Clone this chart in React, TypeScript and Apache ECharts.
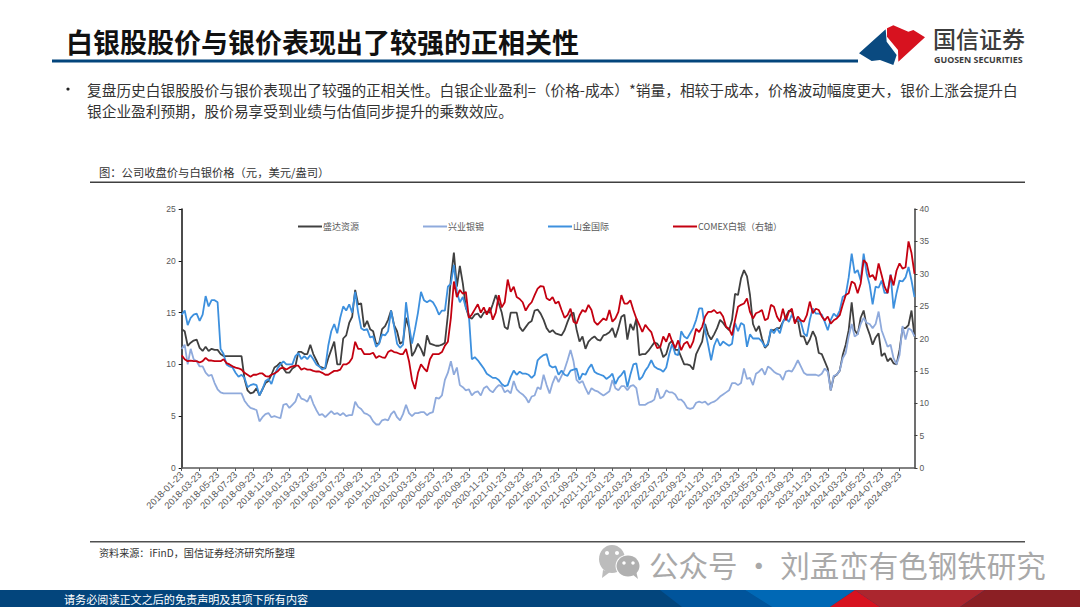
import React, { useEffect, useRef } from "react";
import * as echarts from "echarts";

const seriesNames = ["盛达资源", "兴业银锡", "山金国际", "COMEX白银（右轴）"];

const shengda = [
  13.4,13.2,11.8,12.1,12.3,12.4,11.6,11.3,11.7,11.3,
  11.5,11.4,11.4,11.0,10.8,10.8,10.8,10.8,10.8,10.8,
  10.8,8.6,7.5,7.2,7.3,7.7,7.0,7.6,8.2,8.4,
  9.0,9.7,9.9,10.2,9.6,9.2,9.2,9.6,9.8,11.2,
  11.2,11.0,11.0,11.9,11.0,10.4,9.8,9.7,9.6,10.6,
  11.4,12.2,10.0,10.0,12.5,12.8,14.0,14.6,17.2,15.8,
  15.9,13.6,14.2,13.4,13.2,12.0,12.0,13.4,13.7,14.3,
  15.2,13.8,13.2,12.0,12.2,14.5,13.5,10.8,11.3,12.0,
  11.5,10.8,12.8,12.0,11.9,11.8,11.8,11.9,12.1,14.8,
  18.3,20.8,17.5,19.5,17.8,15.5,14.6,
  14.4,14.8,14.9,14.5,15,15.1,15,15.8,16.7,15.9,15,13.6,13.4,15,15,15,13.6,13.2,13.6,14,14.2,15.2,15.3,
  14.9,14.3,13.5,13.1,13.3,13,12.9,12.8,13.3,14.1,14.8,15,13.4,12.2,12.7,11.5,12.2,12.5,12.7,12.4,12.3,12.8,12.9,13.1,13.5,12.6,13.5,14.6,14.8,12.4,13.9,13.3,14.4,10.9,11,11,11.3,11.7,12.1,12,11.6,
  10.7,11,12,12.3,11.4,11.4,10.7,10,10,9.9,9.5,11,11.6,12.2,13.9,12.9,12.4,12.9,13.5,14.3,14,13.6,13.3,14.3,16.8,16.7,18.3,19.1,18.5,16.7,13.9,13.2,13.7,12.5,11.6,11.9,13.3,13.3,13.5,13.5,14.1,14.6,15.2,
  15.1,14.1,14.3,12.7,12.7,11.9,12.4,13.2,12.6,11.1,11,10.3,9.6,7.5,8.8,9,9.4,10.9,11.9,13.3,16,13.3,12.9,14.5,15.2,13.7,12.9,11.9,12.6,13,10.8,11.1,10.3,10.6,10.1,10,11.4,13.5,13.5,13.8,15.2,12.7,
];

const xingye = [
  11.5,11.9,10,11.5,10.5,10.3,9.8,9.8,9.2,8.9,
  9,8.2,7.6,7.3,7.2,7.2,7.2,7.2,7.2,7.2,
  7.2,6.5,6.1,5.8,5.7,5.6,4.5,4.9,5.2,5.3,
  4.9,5,4.9,4.8,6.1,6.2,5.8,6.1,6.4,7.2,
  6.7,6.6,6.4,7,6.2,5.6,5.1,5.2,4.9,5.2,
  5.5,5.2,5.3,5.1,5.3,5,5.1,5.1,6.4,5.9,
  5.7,5.3,5.2,5,4.5,4.2,4.2,4.6,4.7,4.6,
  5.2,5.5,4.9,4.6,5.2,6.1,5.3,5,5.3,5.3,
  5.4,5.4,5.1,5.3,5.4,6.8,6.7,7,8.5,9.2,
  10.3,9,9.7,8,7.8,7.5,7.6,
  7,7.3,7.4,7,7.7,7.9,7.5,7.3,7.7,8,7.9,7.3,7.5,7.2,8.4,7.6,7.3,7.1,6.8,6.3,6.9,7,7.8,
  7.6,9,8,7.2,8.2,8.9,8.3,8.9,9.5,10.4,11.4,10.3,8.5,8.2,8.4,7.7,7.1,7.7,7.5,7.4,7.2,7,7.2,7.4,8.5,7.7,7.5,7.9,7.9,7.5,7.9,8,7.7,6.1,6.1,6.1,6.3,6.4,6.6,7.7,6.7,
  6.9,7.5,7.3,7.3,7.1,6.6,6.6,6.3,5.8,5.7,5.8,6.3,6.4,6.3,6.4,6.1,6.3,6.4,6.6,6.9,7.1,7.3,7.5,8.2,8.2,8,8.2,9.6,8.6,8.7,8,9.1,9.3,9.6,9,9.8,9.6,9.3,9.1,9,8.5,9.3,9.4,
  9.3,9.8,10.4,9.8,9.2,9,9,9,9,8.9,9.1,9.6,9.3,7.5,8.9,9,9.4,10.6,11.1,12.7,13.9,12.7,12.9,13.9,14.5,14,13.9,13.5,13.9,15.1,13.3,12.5,11.7,11.9,10.6,10,10.9,13.7,12.4,13.5,13.3,12.7,
];

const shanjin = [
  14.8,15.2,13.8,14.5,14.8,14.9,14.2,14.8,16.6,15.6,
  16.2,16.2,16.0,11.5,11,10,9.8,9.7,9.2,8.8,
  9,8.7,7.8,8,8.1,8,7,7.6,8.4,8.6,
  8.1,9,9.6,10,10.3,10,10,10,10.8,11.1,
  10.5,10.8,10.5,10.9,10.5,10,9.8,9.5,9.7,11.8,
  13.2,13.9,13,14.5,15.6,15.2,15.8,15,17,15,
  13.5,13.3,13.4,12.6,12.7,11.7,12,12.9,12.8,13.2,
  15.2,13.7,12,11.6,11.9,16,13.8,12,13.4,15,
  17,16.2,16,16.2,16,15.5,14.8,15.2,15.2,17.5,
  17.8,19.6,17,16,16.5,15.5,14.8,
  10.5,10.7,10.4,10,9.6,9.1,8.9,8.7,8.7,8.5,8.1,7.9,8,8.8,9.4,9,9.3,9.1,9.1,9,8.7,9,10.4,
  10.7,10.9,11,9.9,9.7,9.8,9,9.4,9,8.9,9.4,9.5,9.6,8.5,9.1,9,9.6,10,9.3,9.1,9,8.9,8.6,8.8,9.1,8.1,8.7,9,9.4,7.8,9,10,10.1,8.5,8.8,9.4,9.8,10.4,9.8,9.6,9.5,
  9.3,9.7,11,12,11,10.9,13.2,12.7,12.5,13,13.5,14.3,15.4,15.4,13.3,11.9,10.4,11.8,12.5,11.8,12.2,12,11.8,12,14,13.2,14,13.8,11.7,12.9,12.5,12.5,12.5,12.2,11.7,12,13.4,13,13.5,13,14.1,14.5,14.1,
  14.8,14.3,14.3,14.1,13,12.7,14.3,15.4,14.9,14.9,14.8,14.1,13.3,14.3,14.9,14.6,15.2,16.5,16.7,18.4,20.7,18.8,19.1,18.1,20.7,18.8,17.7,15.8,17.5,17.4,18.1,16.9,16.9,18.7,15.4,16.9,18.1,18,18.4,19.4,18.1,16.5,
];

const comexSilver = [
  17.4,16.8,16.5,16.6,16.5,16.5,16.3,16.5,17,16.6,
  16.6,16.5,16.5,16.5,16.8,16.2,16,15.7,15.5,15.4,
  15.2,14.7,14.4,14.1,14.4,14.4,14.6,14.6,14.2,14.1,
  14.4,14.6,14.9,15.4,15.5,15.2,15.5,15.7,15.8,15.8,
  15.2,15.4,15.2,15.2,15,14.9,14.9,14.7,14.4,14.4,
  14.7,15,15,15.2,16,16,16.3,17,19.5,18.4,
  18.4,17.6,17.6,17.6,17.8,17,17.3,17.1,17,17.9,
  18.2,17.9,17.8,17.6,17.6,18.4,16.5,13.6,12.2,14.7,
  16,15.4,14.9,16.8,17.6,17.6,17.6,17.9,18.9,19.5,
  23.2,28.8,26.4,27.5,26.9,27.2,23.2,
  23.7,24.5,25.3,24,24.8,23.7,24.8,22.9,24,26.7,24.8,25.6,29.1,27.2,28,26.4,26.1,25.6,24.3,25.1,25.6,26.7,27.7,
  28.1,28,26.2,25.9,26.4,25.4,25.7,24.4,23.2,23.6,
  24.6,22.6,22.3,23.6,24.4,24.1,25.2,24.4,22.6,22.1,
  22.6,23.1,22.8,24.4,22.6,23.1,24.1,26.7,25.4,25.4,
  25.9,24.4,23.1,22.1,21,22.1,21.5,21,19.5,18.5,
  18.7,20.3,19.5,20.8,19.5,18.5,19.7,18.2,19.2,19.5,
  18.5,19.5,21.5,21,21.8,23.4,24.1,24.1,24.4,23.9,
  24.1,23.4,21.8,21.5,20.5,22.8,24.9,25.2,25.4,26.2,
  24.1,23.1,23.9,24.1,24.4,22.8,23.1,25.2,24.9,23.4,
  22.6,24.6,22.8,24.1,24.6,22.3,23.4,22.8,22.6,23.6,
  25.7,23.9,24.6,24.4,23.4,22.8,23.4,22.3,22.8,23.1,
  23.6,
  25.2,26.7,27,28.8,28.5,27,28.5,32.1,31.6,29.5,29.8,29,31.6,29.8,28,27,29.8,28.2,30.5,31.6,30.8,31,35,33.2,30,
];

// Date grid: three samples a month, starting on 2018-01-23
const pad = (n: number) => String(n).padStart(2, "0");
const categories: string[] = shengda.map((_, i) => {
  const step = i + 2; // 23rd is the third sample of a month
  const months = Math.floor(step / 3);
  const d = [3, 13, 23][step % 3];
  const y = 2018 + Math.floor(months / 12);
  const m = months % 12 + 1;
  return `${y}-${pad(m)}-${pad(d)}`;
});

const titleText = "白银股股价与银价表现出了较强的正相关性";
const bodyLine1 = "复盘历史白银股股价与银价表现出了较强的正相关性。白银企业盈利=（价格-成本）*销量，相较于成本，价格波动幅度更大，银价上涨会提升白";
const bodyLine2 = "银企业盈利预期，股价易享受到业绩与估值同步提升的乘数效应。";
const chartHeading = "图：公司收盘价与白银价格（元，美元/盎司）";
const sourceText = "资料来源：iFinD，国信证券经济研究所整理";
const footerText = "请务必阅读正文之后的免责声明及其项下所有内容";
const watermark = "公众号 · 刘孟峦有色钢铁研究";

const cjk = '"Noto Sans CJK SC", "Noto Sans", sans-serif';
const latin = '"Liberation Sans", Arial, sans-serif';
const navy = "#03457c";

const txt = (text: string, x: number, y: number, size: number, fill: string, weight = "normal", family = cjk) => ({
  type: "text",
  x,
  y,
  silent: true,
  style: { text, fill, fontSize: size, lineHeight: size, fontWeight: weight, fontFamily: family, textVerticalAlign: "middle", textAlign: "left" },
});
const poly = (pts: number[][], fill: string) => ({ type: "polygon", silent: true, shape: { points: pts }, style: { fill } });
const rect = (x: number, y: number, width: number, height: number, fill: string) => ({ type: "rect", silent: true, shape: { x, y, width, height }, style: { fill } });
const oval = (cx: number, cy: number, rx: number, ry: number, fill: string) => ({ type: "ellipse", silent: true, shape: { cx, cy, rx, ry }, style: { fill } });

const lz = (x: number, y: number) => [840 + x / 3, y / 3];

export default function App() {
  const ref = useRef<HTMLDivElement>(null);
  useEffect(() => {
    const chart = echarts.init(ref.current!, null, { renderer: "svg" });
    const colors = ["#404040", "#8faadc", "#3d90de", "#c40010"];
    const mk = (i: number, data: number[], yAxisIndex: number) => ({
      name: seriesNames[i],
      type: "line",
      data,
      yAxisIndex,
      showSymbol: false,
      symbol: "none",
      silent: true,
      lineStyle: { color: colors[i], width: 1.8 },
      itemStyle: { color: colors[i] },
      z: 2 + i,
    });
    chart.setOption({
      animation: false,
      backgroundColor: "#fff",
      grid: { left: 181.7, right: 165.5, top: 209, bottom: 139, containLabel: false },
      legend: {
        left: 298,
        top: 222,
        padding: 0,
        icon: "rect",
        itemWidth: 24,
        itemHeight: 2,
        itemGap: 64,
        textStyle: { fontSize: 9, color: "#595959", fontFamily: cjk, padding: [0, 0, 0, -4] },
        data: seriesNames,
      },
      xAxis: {
        type: "category",
        data: categories,
        boundaryGap: false,
        axisLine: { lineStyle: { color: "#595959", width: 1.5 } },
        axisTick: { interval: 5, length: 3, lineStyle: { color: "#595959" } },
        axisLabel: { interval: 5, rotate: 45, fontSize: 9.4, color: "#595959", fontFamily: latin, margin: 5, showMinLabel: true },
      },
      yAxis: [
        {
          type: "value",
          min: 0,
          max: 25,
          interval: 5,
          splitLine: { show: false },
          axisLine: { show: true, lineStyle: { color: "#111", width: 1.5 } },
          axisTick: { show: true, length: 3, lineStyle: { color: "#111" } },
          axisLabel: { fontSize: 8.5, color: "#595959", fontFamily: latin, margin: 6 },
        },
        {
          type: "value",
          min: 0,
          max: 40,
          interval: 5,
          position: "right",
          splitLine: { show: false },
          axisLine: { show: true, lineStyle: { color: "#404040", width: 1.5 } },
          axisTick: { show: true, length: 3, lineStyle: { color: "#404040" } },
          axisLabel: { fontSize: 8.5, color: "#595959", fontFamily: latin, margin: 5 },
        },
      ],
      series: [mk(0, shengda, 0), mk(1, xingye, 0), mk(2, shanjin, 0), mk(3, comexSilver, 1)],
      graphic: {
        elements: [
          txt(titleText, 66, 41, 27, "#111", "bold"),
          rect(52, 59.5, 806, 3, navy),
          poly([[57,160],[137,88],[140,125],[170,165],[160,195],[120,180],[95,183]].map(p => lz(p[0], p[1])), "#0a4a80"),
          poly([[141,85],[160,76],[205,95],[220,90],[255,112],[175,185],[174,150],[141,110]].map(p => lz(p[0], p[1])), "#d7121f"),
          txt("国信证券", 933, 38, 23, "#3c3c3c", "500"),
          txt("GUOSEN SECURITIES", 934, 59.5, 8.9, "#3c3c3c", "bold", '"Open Sans", sans-serif'),
          oval(68, 89, 1.6, 1.6, "#222"),
          txt(bodyLine1, 87, 89, 14.7, "#333"),
          txt(bodyLine2, 87, 110.5, 14.7, "#333"),
          txt(chartHeading, 99, 171.5, 11.3, "#333"),
          rect(90, 181.5, 935, 1.5, "#404040"),
          rect(90, 541, 935, 1.5, "#505050"),
          txt(sourceText, 99, 552, 10.1, "#333"),
          oval(612, 559, 13, 14, "#bcbcbc"),
          oval(628, 566, 12.5, 11.5, "#fff"),
          oval(628, 566, 11.5, 10.5, "#b0b0b0"),
          poly([[603,570],[602,578],[610,572]], "#bcbcbc"),
          poly([[632,574],[638,579],[636,571]], "#b0b0b0"),
          oval(607, 553, 2, 2, "#fff"),
          oval(617, 553, 2, 2, "#fff"),
          oval(624, 563, 1.7, 1.7, "#fff"),
          oval(633, 563, 1.7, 1.7, "#fff"),
          txt(watermark, 649, 564, 29.5, "#a9a9a9"),
          rect(0, 590, 1080, 17, navy),
          poly([[660,590],[745,590],[772,607],[682,607]], "#00549b"),
          poly([[745,590],[855,590],[830,607],[772,607]], "#0068b5"),
          poly([[855,590],[985,590],[960,607],[880,607]], "#ab262e"),
          poly([[855,590],[880,607],[830,607]], "#d7121f"),
          poly([[985,590],[1080,590],[1080,607],[960,607]], "#8b1f24"),
          txt(footerText, 64, 599, 11.1, "#fff"),
        ],
      },
    });
    return () => chart.dispose();
  }, []);
  return <div ref={ref} style={{ position: "absolute", left: 0, top: 0, width: 1080, height: 607 }} />;
}
